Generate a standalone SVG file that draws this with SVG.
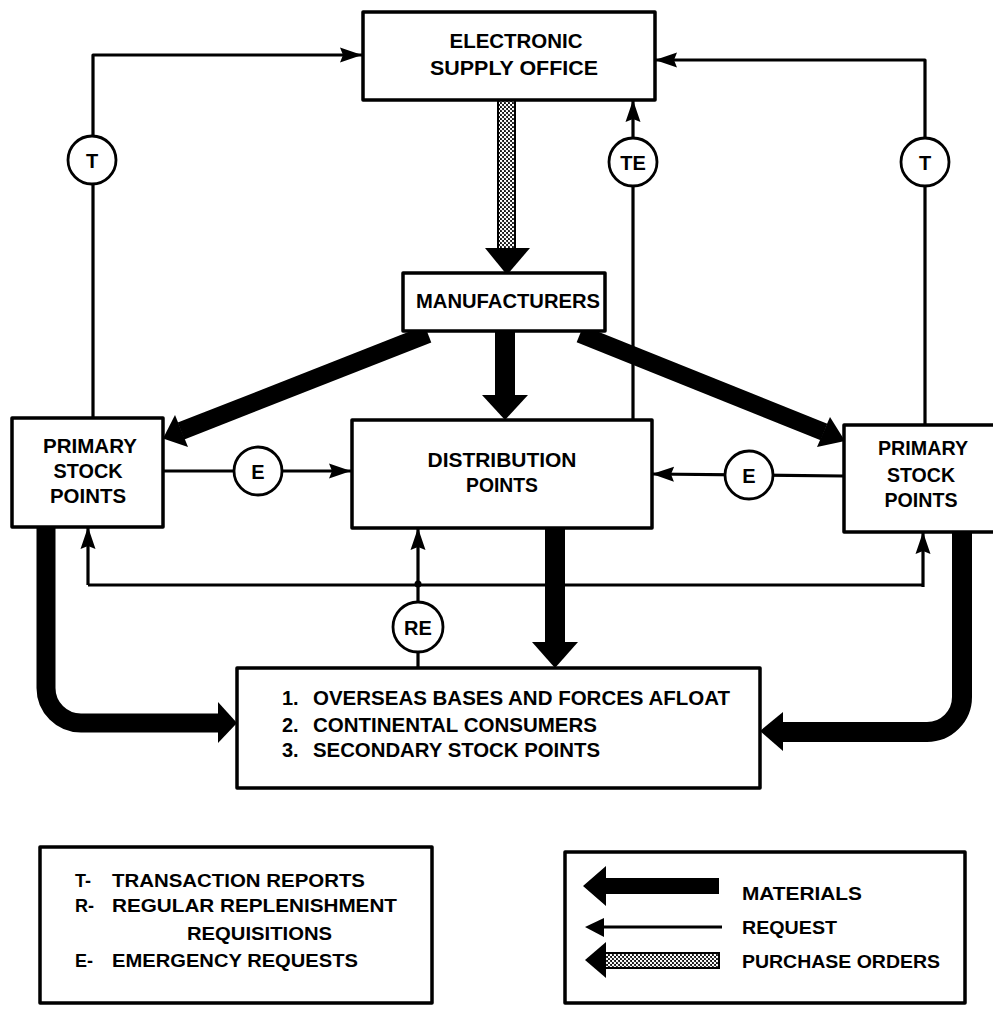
<svg xmlns="http://www.w3.org/2000/svg" width="993" height="1012" viewBox="0 0 993 1012">
  <style>
    .box { fill: #fff; stroke: #000; stroke-width: 3.5; stroke-linejoin: round; }
    .req { fill: none; stroke: #000; stroke-width: 3.2; stroke-linejoin: round; }
    .mat { fill: none; stroke: #000; stroke-linejoin: round; }
    .tag { fill: #fff; stroke: #000; stroke-width: 2.8; }
    .lbl { font-family: "Liberation Sans", Arial, sans-serif; font-weight: bold; fill: #000; }
    .c { text-anchor: middle; }
  </style>
  <defs>
    <marker id="reqHead" markerUnits="userSpaceOnUse" markerWidth="24" markerHeight="18" refX="22" refY="8" orient="auto">
      <path d="M0,0.5 L22,8 L0,15.5 L3,8 z" fill="#000"/>
    </marker>
    <pattern id="stipple" patternUnits="userSpaceOnUse" width="4" height="4">
      <rect width="4" height="4" fill="#111"/>
      <circle cx="1" cy="1" r="1.25" fill="#fff"/>
      <circle cx="3" cy="3" r="1.25" fill="#fff"/>
    </pattern>
  </defs>

  <!-- connectors -->
  <g id="connectors">
    <!-- material flows (thick) -->
    <line class="mat" x1="428" y1="334" x2="181" y2="431" stroke-width="18"/>
    <polygon points="163,438.5 175,415 188,447"/>
    <line class="mat" x1="580" y1="334" x2="824" y2="432" stroke-width="18"/>
    <polygon points="845,441 830,417 817,447"/>
    <rect x="495" y="328" width="20" height="68"/>
    <polygon points="482,395 528,395 505,420"/>
    <rect x="545" y="526" width="20" height="117"/>
    <polygon points="532,642 578,642 555,668"/>
    <path class="mat" d="M46,526 V688 A35,35 0 0 0 81,723 H220" stroke-width="19"/>
    <polygon points="218,702 237,723 218,743"/>
    <path class="mat" d="M962,530 V697 A35,35 0 0 1 927,732 H781" stroke-width="20"/>
    <polygon points="783,712 760,731 783,751"/>

    <!-- purchase orders (stippled) -->
    <rect x="498" y="100" width="17" height="149" fill="url(#stipple)" stroke="#000" stroke-width="2"/>
    <polygon points="485,248 530,248 507,275"/>

    <!-- requests / reports (thin) -->
    <path class="req" d="M93,418 V55 H362" marker-end="url(#reqHead)"/>
    <path class="req" d="M925,425 V60 H655" marker-end="url(#reqHead)"/>
    <path class="req" d="M633,420 V100" marker-end="url(#reqHead)"/>
    <path class="req" d="M163,471 H351" marker-end="url(#reqHead)"/>
    <path class="req" d="M844,476 L652,474" marker-end="url(#reqHead)"/>
    <path class="req" d="M88,585 H923"/>
    <path class="req" d="M88,585 V527" marker-end="url(#reqHead)"/>
    <path class="req" d="M923,587 V532" marker-end="url(#reqHead)"/>
    <path class="req" d="M418,668 V528" marker-end="url(#reqHead)"/>
    <circle cx="418" cy="584" r="3.5"/>

    <!-- flow tags -->
    <g id="tag-t-left">
      <circle class="tag" cx="92" cy="160" r="24"/>
      <text class="lbl c" x="92" y="167.5" font-size="20">T</text>
    </g>
    <g id="tag-t-right">
      <circle class="tag" cx="925" cy="162" r="24"/>
      <text class="lbl c" x="925" y="169.5" font-size="20">T</text>
    </g>
    <g id="tag-te">
      <circle class="tag" cx="633" cy="162" r="24"/>
      <text class="lbl c" x="633" y="169.5" font-size="20">TE</text>
    </g>
    <g id="tag-e-left">
      <circle class="tag" cx="258" cy="471" r="24"/>
      <text class="lbl c" x="258" y="478.5" font-size="20">E</text>
    </g>
    <g id="tag-e-right">
      <circle class="tag" cx="749" cy="475" r="24"/>
      <text class="lbl c" x="749" y="482.5" font-size="20">E</text>
    </g>
    <g id="tag-re">
      <circle class="tag" cx="418" cy="627" r="25"/>
      <text class="lbl c" x="418" y="634.5" font-size="20">RE</text>
    </g>
  </g>

  <!-- nodes -->
  <g id="supply-office">
    <rect class="box" x="363" y="12" width="292" height="88"/>
    <text class="lbl c" x="516" y="48" font-size="21" textLength="133" lengthAdjust="spacingAndGlyphs">ELECTRONIC</text>
    <text class="lbl c" x="514" y="75" font-size="21" textLength="168" lengthAdjust="spacingAndGlyphs">SUPPLY OFFICE</text>
  </g>

  <g id="manufacturers">
    <rect class="box" x="403" y="273" width="202" height="58"/>
    <text class="lbl c" x="508" y="308" font-size="20" textLength="184" lengthAdjust="spacingAndGlyphs">MANUFACTURERS</text>
  </g>

  <g id="primary-stock-left">
    <rect class="box" x="12" y="418" width="151" height="109"/>
    <text class="lbl c" x="90" y="453" font-size="20" textLength="94" lengthAdjust="spacingAndGlyphs">PRIMARY</text>
    <text class="lbl c" x="88" y="478" font-size="20" textLength="69" lengthAdjust="spacingAndGlyphs">STOCK</text>
    <text class="lbl c" x="88" y="503" font-size="20" textLength="76" lengthAdjust="spacingAndGlyphs">POINTS</text>
  </g>

  <g id="distribution-points">
    <rect class="box" x="352" y="420" width="300" height="108"/>
    <text class="lbl c" x="502" y="467" font-size="20" textLength="149" lengthAdjust="spacingAndGlyphs">DISTRIBUTION</text>
    <text class="lbl c" x="502" y="492" font-size="20" textLength="72" lengthAdjust="spacingAndGlyphs">POINTS</text>
  </g>

  <g id="primary-stock-right">
    <rect class="box" x="844" y="425" width="160" height="107"/>
    <text class="lbl c" x="923" y="455" font-size="20" textLength="90" lengthAdjust="spacingAndGlyphs">PRIMARY</text>
    <text class="lbl c" x="921" y="482" font-size="20" textLength="68" lengthAdjust="spacingAndGlyphs">STOCK</text>
    <text class="lbl c" x="921" y="507" font-size="20" textLength="73" lengthAdjust="spacingAndGlyphs">POINTS</text>
  </g>

  <g id="consumers">
    <rect class="box" x="237" y="668" width="523" height="120"/>
    <text class="lbl" x="282" y="705" font-size="20">1.</text>
    <text class="lbl" x="313" y="705" font-size="20" textLength="417" lengthAdjust="spacingAndGlyphs">OVERSEAS BASES AND FORCES AFLOAT</text>
    <text class="lbl" x="282" y="732" font-size="20">2.</text>
    <text class="lbl" x="313" y="732" font-size="20" textLength="284" lengthAdjust="spacingAndGlyphs">CONTINENTAL CONSUMERS</text>
    <text class="lbl" x="282" y="757" font-size="20">3.</text>
    <text class="lbl" x="313" y="757" font-size="20" textLength="287" lengthAdjust="spacingAndGlyphs">SECONDARY STOCK POINTS</text>
  </g>

  <!-- legend: abbreviations -->
  <g id="legend-codes">
    <rect class="box" x="40" y="847" width="392" height="156"/>
    <text class="lbl" x="75" y="887" font-size="18">T-</text>
    <text class="lbl" x="112" y="887" font-size="18" textLength="253" lengthAdjust="spacingAndGlyphs">TRANSACTION REPORTS</text>
    <text class="lbl" x="75" y="912" font-size="18">R-</text>
    <text class="lbl" x="112" y="912" font-size="18" textLength="285" lengthAdjust="spacingAndGlyphs">REGULAR REPLENISHMENT</text>
    <text class="lbl" x="187" y="940" font-size="18" textLength="145" lengthAdjust="spacingAndGlyphs">REQUISITIONS</text>
    <text class="lbl" x="75" y="967" font-size="18">E-</text>
    <text class="lbl" x="112" y="967" font-size="18" textLength="246" lengthAdjust="spacingAndGlyphs">EMERGENCY REQUESTS</text>
  </g>

  <!-- legend: arrow kinds -->
  <g id="legend-arrows">
    <rect class="box" x="565" y="852" width="400" height="151"/>
    <polygon points="583,886 606,866 606,878 719,878 719,894 606,894 606,906"/>
    <text class="lbl" x="742" y="900" font-size="18" textLength="120" lengthAdjust="spacingAndGlyphs">MATERIALS</text>
    <line x1="600" y1="927" x2="722" y2="927" stroke="#000" stroke-width="3"/>
    <polygon points="585,927 604,918 604,937"/>
    <text class="lbl" x="742" y="934" font-size="18" textLength="95" lengthAdjust="spacingAndGlyphs">REQUEST</text>
    <rect x="604" y="953" width="115" height="15" fill="url(#stipple)" stroke="#000" stroke-width="2"/>
    <polygon points="585,960 606,942 606,978"/>
    <text class="lbl" x="742" y="968" font-size="18" textLength="198" lengthAdjust="spacingAndGlyphs">PURCHASE ORDERS</text>
  </g>
</svg>
